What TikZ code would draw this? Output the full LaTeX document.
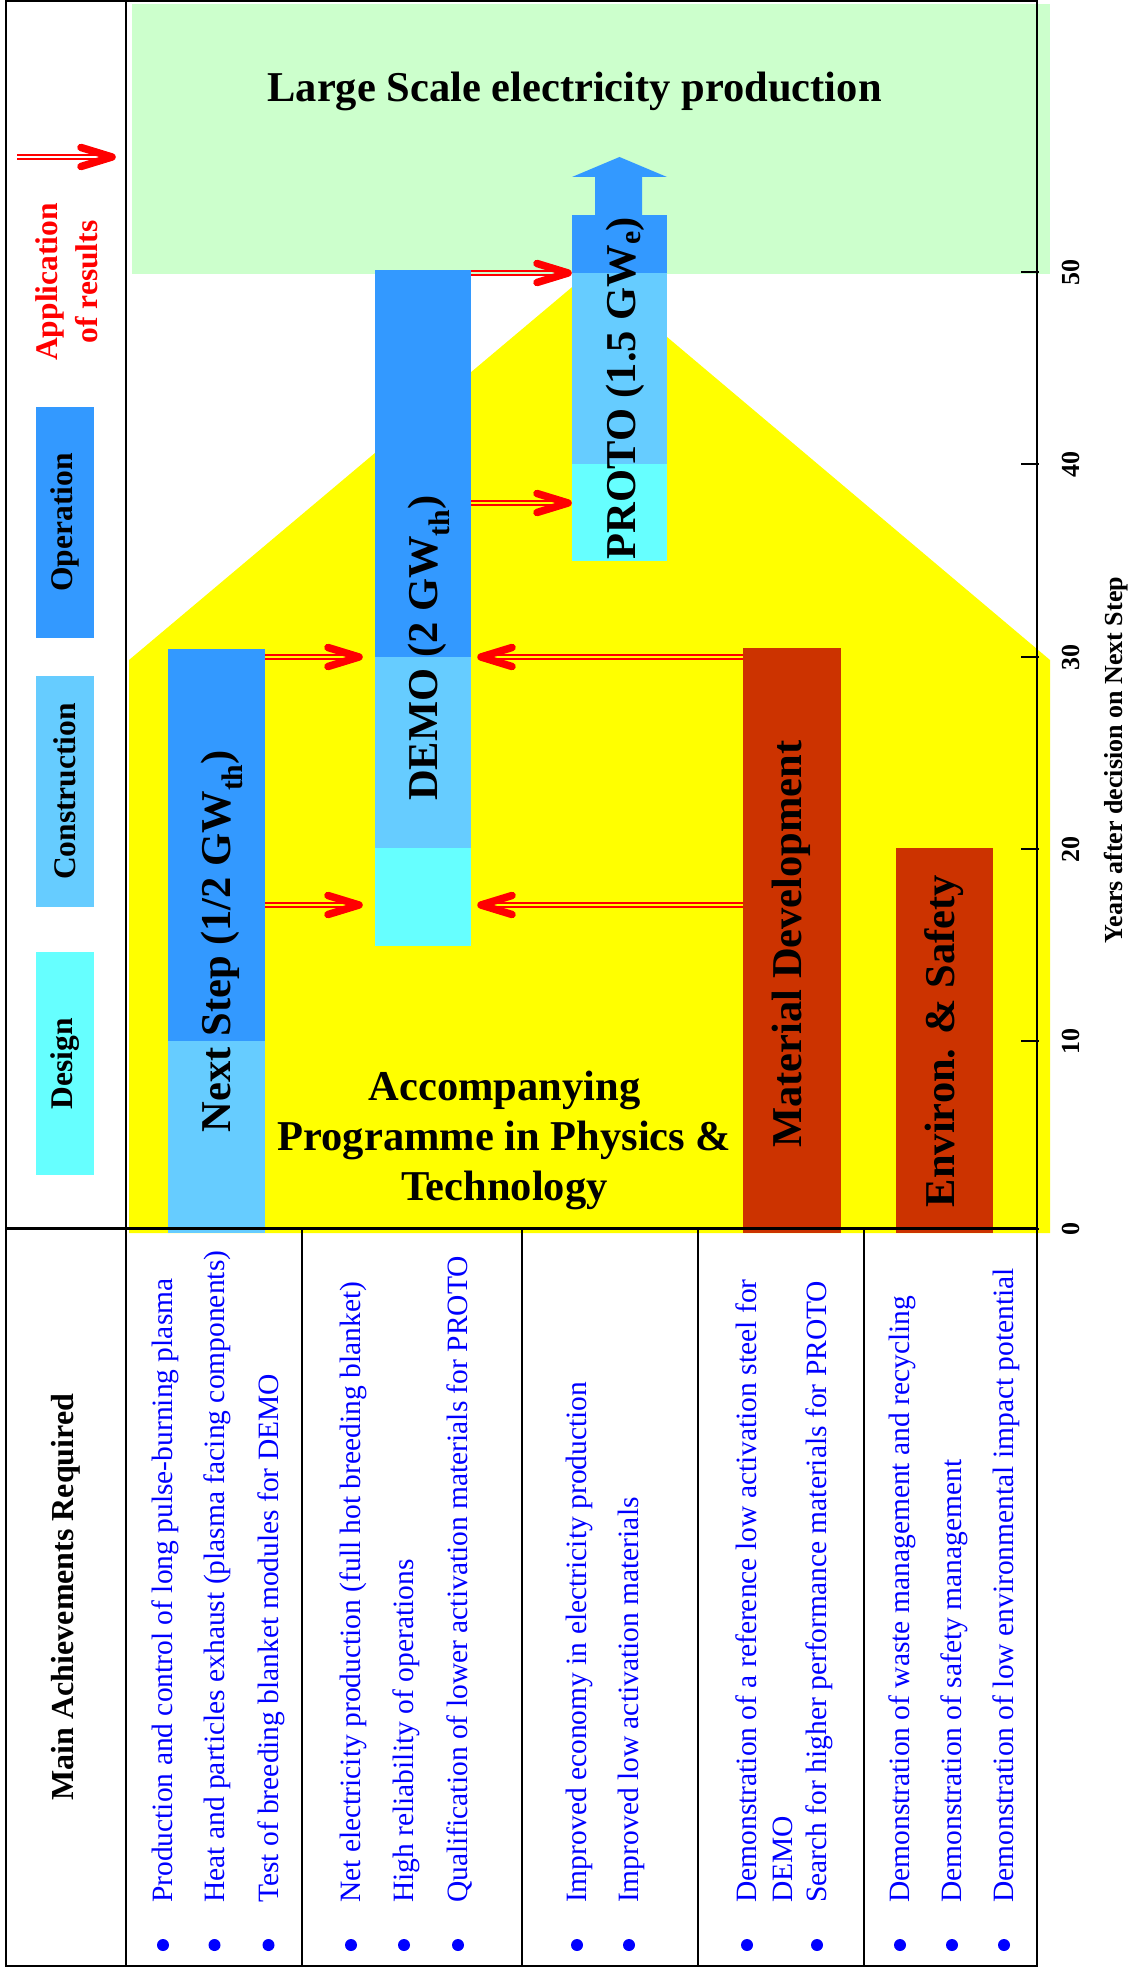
\documentclass[tikz,border=0pt]{standalone}
\usepackage{fontspec}
\setmainfont{Liberation Serif}
\usetikzlibrary{calc}
\definecolor{cdesign}{HTML}{66FFFF}
\definecolor{cconst}{HTML}{66CCFF}
\definecolor{coper}{HTML}{3399FF}
\definecolor{cmat}{HTML}{CC3300}
\definecolor{cgreen}{HTML}{CCFFCC}
\definecolor{cyel}{HTML}{FFFF00}
\definecolor{cred}{HTML}{FF0000}
\definecolor{cblue}{HTML}{0000FF}
\newcommand\chevR[1]{\draw[head] ($(#1)+(-31,-9.5)$) -- (#1) -- ($(#1)+(-31,9.5)$);}
\newcommand\chevL[1]{\draw[head] ($(#1)+(31,-9.5)$) -- (#1) -- ($(#1)+(31,9.5)$);}
\begin{document}
\begin{tikzpicture}[x=1pt,y=-1pt,
  seg/.style={inner sep=0pt, outer sep=0pt, draw=none, anchor=north west},
  bigtxt/.style={font=\fontsize{42.5}{50}\selectfont\bfseries, inner sep=0pt},
  rlab/.style={bigtxt, rotate=90},
  legtxt/.style={font=\fontsize{31.5}{40}\selectfont\bfseries, rotate=90, inner sep=0pt},
  item/.style={font=\fontsize{29.5}{35.4}\selectfont, text=cblue, rotate=90, anchor=base west, inner sep=0pt},
  bul/.style={circle, fill=cblue, minimum size=12pt, inner sep=0pt},
  frame/.style={line width=2.5pt, draw=black},
  shaft/.style={draw=cred, line width=1.7pt, double=#1, double distance=2.7pt},
  shaft/.default=cyel,
  head/.style={draw=cred, line width=7.5pt, line cap=round, line join=round},
  ticklab/.style={font=\fontsize{26}{31}\selectfont\bfseries, rotate=90, inner sep=0pt},
]
\useasboundingbox (0,0) rectangle (1131,1969);
\fill[white] (0,0) rectangle (1131,1969);

% background regions
\node[seg, fill=cgreen, minimum width=918pt, minimum height=270pt] (grn) at (132,4) {};
\fill[cyel] (129,1233) -- (129,660) -- (590,272) -- (1050,660) -- (1050,1233) -- cycle;

% legend
\node[seg, fill=cdesign, minimum width=58pt, minimum height=223pt] (ldes) at (36,952) {};
\node[seg, fill=cconst, minimum width=58pt, minimum height=231pt] (lcon) at (36,676) {};
\node[seg, fill=coper, minimum width=58pt, minimum height=231pt] (lop) at (36,407) {};
\node[legtxt] (tdes) at (ldes.center) {Design};
\node[legtxt] (tcon) at (lcon.center) {Construction};
\node[legtxt] (top) at (lop.center) {Operation};
\node[legtxt, text=cred, align=center] (tapp) at (67,282) {Application\\of results};
\coordinate (ls) at (17,157);
\coordinate (le) at (112,157);
\draw[shaft=white] (ls) -- (le);
\chevR{le}

% bars
\node[seg, fill=cconst, minimum width=97pt, minimum height=192pt] (ns1) at (168,1041) {};
\node[seg, fill=coper, minimum width=97pt, minimum height=392pt] (ns2) at (168,649) {};
\node[seg, fill=cdesign, minimum width=96pt, minimum height=98pt] (demo0) at (375,848) {};
\node[seg, fill=cconst, minimum width=96pt, minimum height=191pt] (demo1) at (375,657) {};
\node[seg, fill=coper, minimum width=96pt, minimum height=387pt] (demo2) at (375,270) {};
\node[seg, fill=cdesign, minimum width=95pt, minimum height=97pt] (proto0) at (572,464) {};
\node[seg, fill=cconst, minimum width=95pt, minimum height=191pt] (proto1) at (572,273) {};
\node[seg, fill=coper, minimum width=95pt, minimum height=58pt] (proto2) at (572,215) {};
\fill[coper] (595,216) -- (595,177) -- (572,177) -- (619.5,157) -- (667,177) -- (642,177) -- (642,216) -- cycle;
\node[seg, fill=cmat, minimum width=98pt, minimum height=585pt] (mat) at (743,648) {};
\node[seg, fill=cmat, minimum width=97pt, minimum height=385pt] (env) at (896,848) {};

% labels
\node[bigtxt, anchor=base] (lsep) at (574.5,102) {Large Scale electricity production};
\node[rlab] (nslab) at (222,941) {Next Step (1/2 GW\textsubscript{th})};
\node[rlab] (demolab) at (429,648) {DEMO (2 GW\textsubscript{th})};
\node[rlab] (protolab) at (625,388) {PROTO (1.5 GW\textsubscript{e})};
\node[rlab] (matlab) at (791,944) {Material Development};
\node[rlab] (envlab) at (944.5,1041) {Environ. \& Safety};
\node[bigtxt, align=center] (acc) at (504.5,1140.5) {Accompanying\\Programme in Physics \&\\Technology};

% arrows
\coordinate (y17) at (0,905);
\coordinate (y30) at (0,657);
\coordinate (y38) at (0,503);
\coordinate (y50) at (0,273);
\coordinate (t1) at ($(demo0.west |- y17)+(-16,0)$);
\coordinate (t2) at ($(demo0.east |- y17)+(10,0)$);
\coordinate (t3) at ($(demo1.west |- y30)+(-16,0)$);
\coordinate (t4) at ($(demo1.east |- y30)+(10,0)$);
\coordinate (t5) at ($(proto0.west |- y38)+(-4,0)$);
\coordinate (t6) at ($(proto1.west |- y50)+(-4,0)$);
\draw[shaft] (ns2.east |- y17) -- (t1); \chevR{t1}
\draw[shaft] (mat.west |- y17) -- (t2); \chevL{t2}
\draw[shaft] (ns2.east |- y30) -- (t3); \chevR{t3}
\draw[shaft] (mat.west |- y30) -- (t4); \chevL{t4}
\draw[shaft] (demo2.east |- y38) -- (t5); \chevR{t5}
\draw[shaft=cgreen] (demo2.east |- y50) -- (t6); \chevR{t6}

% frame
\draw[frame] (6,1.25) rectangle (1037,1966);
\draw[frame] (126,0) -- (126,1966);
\draw[frame] (6,1228.5) -- (1037,1228.5);
\foreach \xx in {302,522,698,864} \draw[frame] (\xx,1228.5) -- (\xx,1966);

% axis
\foreach \t/\yy in {0/1229,10/1041,20/849,30/657,40/464,50/272}{
  \draw[line width=2pt] (1021,\yy) -- (1039,\yy);
  \node[ticklab] at (1071,\yy) {\t};
}
\node[ticklab] (axt) at (1116,760) {Years after decision on Next Step};

% table
\node[legtxt, font=\fontsize{32}{38}\selectfont\bfseries] (mar) at (66,1597) {Main Achievements Required};
\foreach \bx/\txt in {163/{Production and control of long pulse-burning plasma},
  214.5/{Heat and particles exhaust (plasma facing components)},
  268.5/{Test of breeding blanket modules for DEMO},
  351/{Net electricity production (full hot breeding blanket)},
  404/{High reliability of operations},
  458/{Qualification of lower activation materials for PROTO},
  577/{Improved economy in electricity production},
  629/{Improved low activation materials},
  747/{Demonstration of a reference low activation steel for},
  817/{Search for higher performance materials for PROTO},
  900/{Demonstration of waste management and recycling},
  952/{Demonstration of safety management},
  1004/{Demonstration of low environmental impact potential}}{
  \node[bul] at (\bx,1945) {};
  \node[item] at (\bx+9.5,1903) {\txt};
}
\node[item] (demoline) at (792,1903) {DEMO};
\end{tikzpicture}
\end{document}
